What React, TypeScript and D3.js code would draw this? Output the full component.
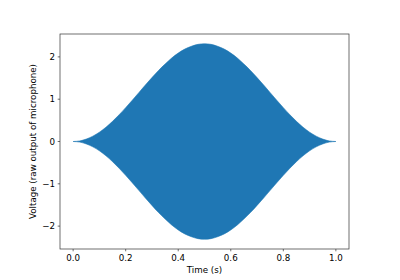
import React from "react";
import * as d3 from "d3";

// Envelope of the microphone signal (time in s, peak voltage)
const times = [
  0, 0.025, 0.05, 0.075, 0.1, 0.125, 0.15, 0.175, 0.2, 0.225, 0.25, 0.275, 0.3, 0.325, 0.35, 0.375,
  0.4, 0.425, 0.45, 0.475, 0.5, 0.525, 0.55, 0.575, 0.6, 0.625, 0.65, 0.675, 0.7, 0.725, 0.75, 0.775,
  0.8, 0.825, 0.85, 0.875, 0.9, 0.925, 0.95, 0.975, 1.0,
];
const upperEnvelope = [
  0.0, 0.014, 0.057, 0.126, 0.22, 0.338, 0.476, 0.631, 0.8, 0.974, 1.155, 1.336, 1.51, 1.679, 1.83, 1.972,
  2.09, 2.184, 2.25, 2.296, 2.31, 2.296, 2.25, 2.184, 2.09, 1.972, 1.83, 1.679, 1.51, 1.336, 1.155, 0.974,
  0.8, 0.631, 0.476, 0.338, 0.22, 0.126, 0.057, 0.014, 0.0,
];
const lowerEnvelope = upperEnvelope.map((v) => -v);
const xTicks = [0, 0.2, 0.4, 0.6, 0.8, 1.0];
const yTicks = [-2, -1, 0, 1, 2];
const xLabel = "Time (s)";
const yLabel = "Voltage (raw output of microphone)";

const W = 400;
const H = 280;
const left = 60;
const right = 349;
const top = 34;
const bottom = 249;

export default function App() {
  const x = d3.scaleLinear().domain([-0.05, 1.05]).range([left, right]);
  const y = d3.scaleLinear().domain([-2.541, 2.541]).range([bottom, top]);
  const pts = times.map((t, i) => ({ t, hi: upperEnvelope[i], lo: lowerEnvelope[i] }));
  const area = d3
    .area<{ t: number; hi: number; lo: number }>()
    .x((d) => x(d.t))
    .y0((d) => y(d.lo))
    .y1((d) => y(d.hi))
    .curve(d3.curveMonotoneX);
  const font = "DejaVu Sans, sans-serif";
  const fs = 8.7;
  const axisColor = "#333";
  return (
    <svg
      width={W}
      height={H}
      style={{ position: "fixed", left: 0, top: 0, background: "#fff" }}
      fontFamily={font}
    >
      <rect x={0} y={0} width={W} height={H} fill="#fff" />
      <path d={area(pts) || ""} fill="#1f77b4" stroke="#1f77b4" strokeWidth={0.6} />
      <rect
        x={left}
        y={top}
        width={right - left}
        height={bottom - top}
        fill="none"
        stroke={axisColor}
        strokeWidth={0.7}
      />
      {xTicks.map((t) => (
        <g key={"x" + t}>
          <line x1={x(t)} x2={x(t)} y1={bottom} y2={bottom + 2.3} stroke={axisColor} strokeWidth={0.7} />
          <text x={x(t)} y={bottom + 11.5} fontSize={fs} textAnchor="middle" fill="#000">
            {d3.format(".1f")(t)}
          </text>
        </g>
      ))}
      {yTicks.map((v) => (
        <g key={"y" + v}>
          <line x1={left - 2.3} x2={left} y1={y(v)} y2={y(v)} stroke={axisColor} strokeWidth={0.7} />
          <text
            x={left - 5}
            y={y(v)}
            fontSize={fs}
            textAnchor="end"
            dominantBaseline="central"
            fill="#000"
          >
            {d3.format("d")(v).replace("-", "\u2212")}
          </text>
        </g>
      ))}
      <text x={(left + right) / 2} y={273} fontSize={fs} textAnchor="middle" fill="#000">
        {xLabel}
      </text>
      <text
        transform={`translate(${36},${(top + bottom) / 2}) rotate(-90)`}
        fontSize={fs}
        textAnchor="middle"
        fill="#000"
      >
        {yLabel}
      </text>
    </svg>
  );
}
